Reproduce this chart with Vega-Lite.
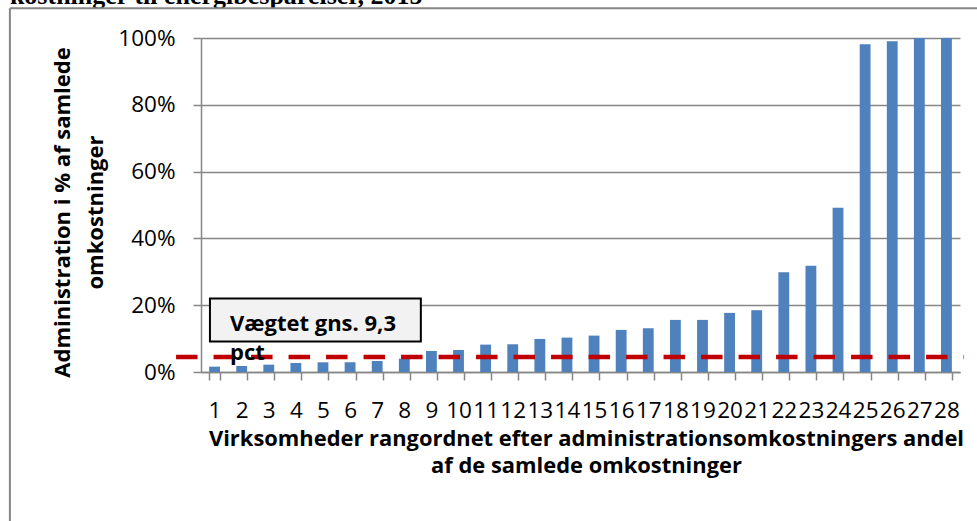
{
  "$schema": "https://vega.github.io/schema/vega-lite/v6.json",
  "autosize": "none",
  "width": 759,
  "height": 334,
  "padding": {"left": 201, "top": 38, "right": 17, "bottom": 149},
  "background": "white",
  "config": {
    "view": {"stroke": null},
    "font": "Open Sans",
    "axis": {
      "domainColor": "#868686",
      "tickColor": "#868686",
      "gridColor": "#868686",
      "domainWidth": 1.5,
      "tickWidth": 1.5,
      "gridWidth": 1.5,
      "labelColor": "black",
      "titleColor": "black",
      "labelFont": "Open Sans",
      "titleFont": "Open Sans"
    }
  },
  "data": {
    "values": [
      {"rank": "1", "value": 1.6},
      {"rank": "2", "value": 1.8},
      {"rank": "3", "value": 2.2},
      {"rank": "4", "value": 2.7},
      {"rank": "5", "value": 2.9},
      {"rank": "6", "value": 2.9},
      {"rank": "7", "value": 3.3},
      {"rank": "8", "value": 4.0},
      {"rank": "9", "value": 6.3},
      {"rank": "10", "value": 6.6},
      {"rank": "11", "value": 8.2},
      {"rank": "12", "value": 8.3},
      {"rank": "13", "value": 9.9},
      {"rank": "14", "value": 10.3},
      {"rank": "15", "value": 10.9},
      {"rank": "16", "value": 12.6},
      {"rank": "17", "value": 13.1},
      {"rank": "18", "value": 15.6},
      {"rank": "19", "value": 15.6},
      {"rank": "20", "value": 17.7},
      {"rank": "21", "value": 18.5},
      {"rank": "22", "value": 29.9},
      {"rank": "23", "value": 31.8},
      {"rank": "24", "value": 49.2},
      {"rank": "25", "value": 98.1},
      {"rank": "26", "value": 99.0},
      {"rank": "27", "value": 100},
      {"rank": "28", "value": 100}
    ]
  },
  "resolve": {"scale": {"x": "independent"}},
  "layer": [
    {
      "mark": {"type": "bar", "color": "#4F81BD"},
      "encoding": {
        "x": {
          "field": "rank",
          "type": "ordinal",
          "sort": null,
          "scale": {"paddingInner": 0.6, "paddingOuter": 0.3},
          "axis": {
            "labelAngle": 0,
            "labelFontSize": 22.5,
            "labelOverlap": false,
            "labelPadding": 19,
            "tickBand": "extent",
            "tickSize": 8,
            "grid": false,
            "title": ["Virksomheder rangordnet efter administrationsomkostningers andel", "af de samlede omkostninger"],
            "titleFontSize": 21.9,
            "titleFontWeight": "bold",
            "titleLineHeight": 27.5,
            "titleX": 385,
            "titleY": 73,
            "titleBaseline": "alphabetic",
            "titleAlign": "center",
            "titleAnchor": null
          }
        },
        "y": {
          "field": "value",
          "type": "quantitative",
          "scale": {"domain": [0, 100]},
          "axis": {
            "values": [0, 20, 40, 60, 80, 100],
            "labelExpr": "datum.value + '%'",
            "labelFontSize": 22.5,
            "labelPadding": 18,
            "tickSize": 8,
            "grid": true,
            "title": ["Administration i % af samlede", "omkostninger"],
            "titleFontSize": 22,
            "titleFontWeight": "bold",
            "titleLineHeight": 33,
            "titleAngle": -90,
            "titleX": -139,
            "titleY": 174,
            "titleBaseline": "middle",
            "titleAlign": "center",
            "titleAnchor": null
          }
        }
      }
    },
    {
      "data": {"values": [{}]},
      "mark": {"type": "rect", "fill": "#F2F2F2", "stroke": "black", "strokeWidth": 2},
      "encoding": {
        "x": {"datum": 0.33, "type": "quantitative", "scale": {"domain": [0, 28]}, "axis": null},
        "x2": {"datum": 8.11},
        "y": {"datum": 22.0, "type": "quantitative"},
        "y2": {"datum": 9.1}
      }
    },
    {
      "data": {"values": [{}]},
      "mark": {"type": "rule", "color": "#C00000", "strokeWidth": 4.5, "strokeDash": [21.5, 16]},
      "encoding": {
        "x": {"datum": -0.92, "type": "quantitative", "scale": {"domain": [0, 28]}, "axis": null},
        "x2": {"datum": 28.15},
        "y": {"datum": 4.5, "type": "quantitative"}
      }
    },
    {
      "data": {"values": [{"label": "Vægtet gns. 9,3", "pos": 12.2}, {"label": "pct", "pos": 3.7}]},
      "mark": {"type": "text", "align": "left", "baseline": "alphabetic", "fontSize": 22, "fontWeight": "bold", "color": "black"},
      "encoding": {
        "x": {"datum": 1.07, "type": "quantitative", "scale": {"domain": [0, 28]}, "axis": null},
        "y": {"field": "pos", "type": "quantitative"},
        "text": {"field": "label"}
      }
    },
    {
      "data": {"values": [{"label": "kostninger til energibesparelser, 2015"}]},
      "mark": {"type": "text", "align": "left", "baseline": "alphabetic", "font": "Liberation Serif", "fontSize": 26, "fontWeight": "bold", "color": "black"},
      "encoding": {
        "x": {"datum": -7.05, "type": "quantitative", "scale": {"domain": [0, 28]}, "axis": null},
        "y": {"datum": 110.3, "type": "quantitative"},
        "text": {"field": "label"}
      }
    },
    {
      "data": {"values": [{}]},
      "mark": {"type": "rule", "color": "#868686", "strokeWidth": 2},
      "encoding": {
        "x": {"datum": -7.05, "type": "quantitative", "scale": {"domain": [0, 28]}, "axis": null},
        "x2": {"datum": 31},
        "y": {"datum": 108.9, "type": "quantitative"}
      }
    },
    {
      "data": {"values": [{}]},
      "mark": {"type": "rule", "color": "#868686", "strokeWidth": 2},
      "encoding": {
        "x": {"datum": -7.05, "type": "quantitative", "scale": {"domain": [0, 28]}, "axis": null},
        "y": {"datum": 108.9, "type": "quantitative"},
        "y2": {"datum": -60}
      }
    }
  ]
}
